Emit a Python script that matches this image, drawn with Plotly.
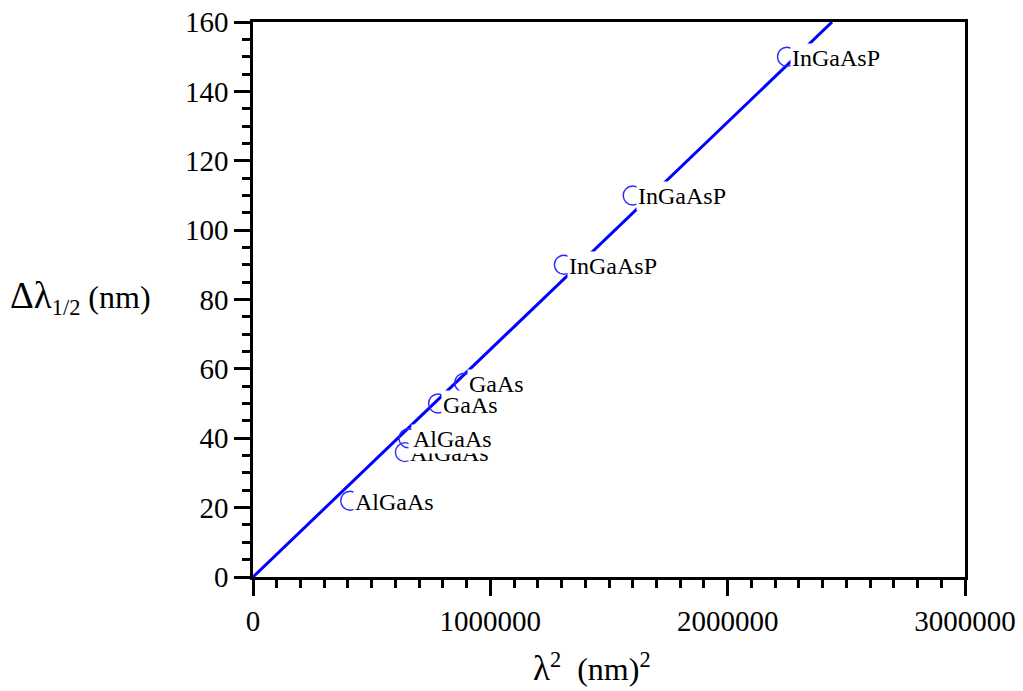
import plotly.graph_objects as go

# ---- data ----
materials = ["AlGaAs", "AlGaAs", "AlGaAs", "GaAs", "GaAs", "InGaAsP", "InGaAsP", "InGaAsP"]
lam_sq = [409600, 640000, 655000, 780000, 890000, 1310000, 1600000, 2250000]   # (nm)^2
dlam = [22, 36, 40, 50, 56, 90, 110, 150]                                       # nm

fit_x = [0, 2440000]
fit_y = [0, 160]

x_ticks = [0, 1000000, 2000000, 3000000]
y_ticks = [0, 20, 40, 60, 80, 100, 120, 140, 160]

FONT = "Liberation Serif, Times New Roman, serif"
BLUE = "#0000ff"

fig = go.Figure()
fig.add_trace(go.Scatter(x=fit_x, y=fit_y, mode="lines",
                         line=dict(color=BLUE, width=3), showlegend=False))
fig.add_trace(go.Scatter(x=lam_sq, y=dlam, mode="markers",
                         marker=dict(symbol="circle-open", size=19, color="#2a2aff",
                                     line=dict(width=1.4)),
                         showlegend=False))

anns = []
for xv, yv, name in zip(lam_sq, dlam, materials):
    anns.append(dict(x=xv, y=yv, xref="x", yref="y", text=name, showarrow=False,
                     xanchor="left", yanchor="middle", xshift=3, yshift=-1,
                     bgcolor="white", borderpad=1,
                     font=dict(family=FONT, size=24, color="black")))

anns.append(dict(xref="paper", yref="paper", x=(8 - 253) / 712, y=(577.5 - 298) / 555.5,
                 xanchor="left", yanchor="middle", showarrow=False,
                 text="<span style='font-size:37px'>Δλ</span><sub>1/2</sub> (nm)",
                 font=dict(family=FONT, size=32, color="black")))
anns.append(dict(xref="paper", yref="paper", x=(592 - 253) / 712, y=(577.5 - 668) / 555.5,
                 xanchor="center", yanchor="middle", showarrow=False,
                 text="<span style='font-size:35px'>λ</span><sup>2</sup>  (nm)<sup>2</sup>",
                 font=dict(family=FONT, size=32, color="black")))

fig.update_layout(
    width=1023, height=691,
    margin=dict(l=253, r=58, t=22, b=113.5, autoexpand=False),
    plot_bgcolor="white", paper_bgcolor="white",
    annotations=anns,
    font=dict(family=FONT, size=29, color="black"),
)
fig.update_xaxes(range=[0, 3000000], tickvals=x_ticks, ticktext=[str(v) for v in x_ticks],
                 automargin=False,
                 showgrid=False, zeroline=False, showline=True, linecolor="black", linewidth=2.5,
                 mirror=True, ticks="outside", ticklen=16, tickwidth=2.5, tickcolor="black",
                 tickfont=dict(family=FONT, size=29, color="black"),
                 minor=dict(dtick=100000, ticks="outside", ticklen=8, tickwidth=2.5, tickcolor="black"))
fig.update_yaxes(range=[0, 160], tickvals=y_ticks, ticktext=[str(v) for v in y_ticks],
                 automargin=False,
                 showgrid=False, zeroline=False, showline=True, linecolor="black", linewidth=2.5,
                 mirror=True, ticks="outside", ticklen=16, tickwidth=2.5, tickcolor="black",
                 tickfont=dict(family=FONT, size=29, color="black"),
                 minor=dict(dtick=5, ticks="outside", ticklen=8, tickwidth=2.5, tickcolor="black"))

fig.write_html("out.html")
